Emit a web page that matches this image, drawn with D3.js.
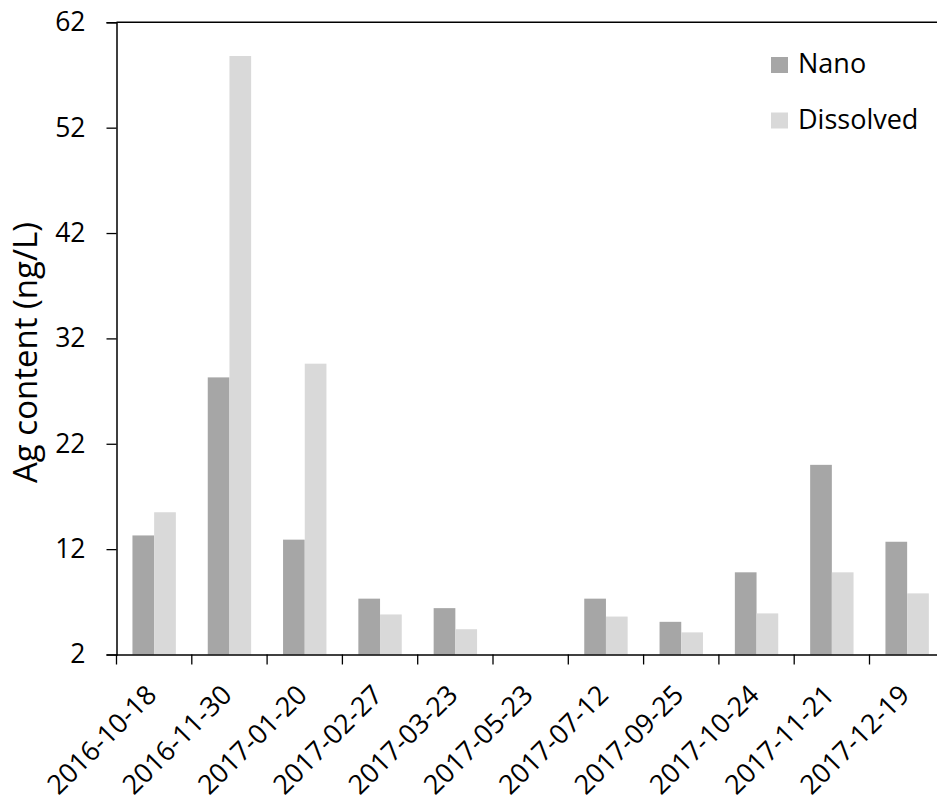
<!DOCTYPE html>
<html>
<head>
<meta charset="utf-8">
<script src="https://cdn.jsdelivr.net/npm/d3@7/dist/d3.min.js"></script>
<style>
  html, body { margin: 0; padding: 0; background: #fff; }
  svg { display: block; }
  text { font-family: "Open Sans", Lato, sans-serif; fill: #000; }
</style>
</head>
<body>
<svg id="chart" width="937" height="804"></svg>
<script>
const dates = ["2016-10-18","2016-11-30","2017-01-20","2017-02-27","2017-03-23","2017-05-23","2017-07-12","2017-09-25","2017-10-24","2017-11-21","2017-12-19"];
const seriesNames = ["Nano","Dissolved"];
const nano =      [13.3, 28.3, 12.9, 7.3, 6.4, null, 7.3, 5.1, 9.8, 20.0, 12.7];
const dissolved = [15.5, 58.8, 29.6, 5.8, 4.4, null, 5.6, 4.1, 5.9, 9.8, 7.8];
const yTicks = [2, 12, 22, 32, 42, 52, 62];
const yTitle = "Ag content (ng/L)";
const colors = ["#a6a6a6", "#d9d9d9"];

const FONT = "'Open Sans', Lato, sans-serif";
const svg = d3.select("#chart");
const mLeft = 116.5, mTop = 22.3, mBottom = 654.5, mRight = 944.8;

const x = d3.scaleBand().domain(dates).range([mLeft, mRight]).paddingInner(0).paddingOuter(0);
const xs = d3.scaleBand().domain(seriesNames).range([0, x.bandwidth()]).paddingInner(0).paddingOuter(0.735);
const y = d3.scaleLinear().domain([2, 62]).range([mBottom, mTop]);

// bars
const seriesData = [nano, dissolved];
seriesNames.forEach((s, si) => {
  svg.append("g").selectAll("rect")
    .data(dates.map((d, i) => ({d, v: seriesData[si][i]})).filter(e => e.v != null && e.v > 2))
    .join("rect")
    .attr("x", e => x(e.d) + xs(s))
    .attr("width", xs.bandwidth())
    .attr("y", e => y(e.v))
    .attr("height", e => y(2) - y(e.v))
    .attr("fill", colors[si]);
});

// y axis
const yAxis = d3.axisLeft(y).tickValues(yTicks).tickSize(10).tickPadding(21).tickFormat(d3.format("d"));
const gy = svg.append("g").attr("transform", `translate(${mLeft},0)`).call(yAxis);
gy.select(".domain").attr("stroke", "#000").attr("stroke-width", 1.5);
gy.selectAll(".tick line").attr("stroke", "#000").attr("stroke-width", 1.3);
gy.selectAll(".tick text").attr("font-size", 26.5).attr("font-family", FONT).attr("fill", "#000");

// top border
svg.append("line").attr("x1", mLeft).attr("x2", mRight).attr("y1", y(62)).attr("y2", y(62))
  .attr("stroke", "#000").attr("stroke-width", 1.5);

// x axis (labels)
const xAxis = d3.axisBottom(x).tickSize(0).tickPadding(0);
const gx = svg.append("g").attr("transform", `translate(0,${mBottom})`).call(xAxis);
gx.select(".domain").attr("stroke", "#000").attr("stroke-width", 1.5);
gx.selectAll(".tick text")
  .attr("font-size", 27).attr("font-family", FONT).attr("fill", "#000")
  .attr("y", 0).attr("dy", 0)
  .attr("text-anchor", "end")
  .attr("transform", "translate(4,42) rotate(-45)");

// boundary ticks
const bounds = dates.map(d => x(d)).concat([mRight]);
svg.append("g").selectAll("line").data(bounds).join("line")
  .attr("x1", d => d).attr("x2", d => d)
  .attr("y1", mBottom).attr("y2", mBottom + 10)
  .attr("stroke", "#000").attr("stroke-width", 1.3);

// y title
svg.append("text")
  .attr("transform", `translate(37,${(223+482)/2}) rotate(-90)`)
  .attr("text-anchor", "middle")
  .attr("font-size", 33)
  .text(yTitle);

// legend
const lg = svg.append("g");
seriesNames.forEach((s, i) => {
  const yy = 57 + i * 55.5;
  lg.append("rect").attr("x", 771).attr("y", yy).attr("width", 17).attr("height", 16).attr("fill", colors[i]);
  lg.append("text").attr("x", 798).attr("y", yy + 16).attr("font-size", 27).text(s);
});
</script>
</body>
</html>
